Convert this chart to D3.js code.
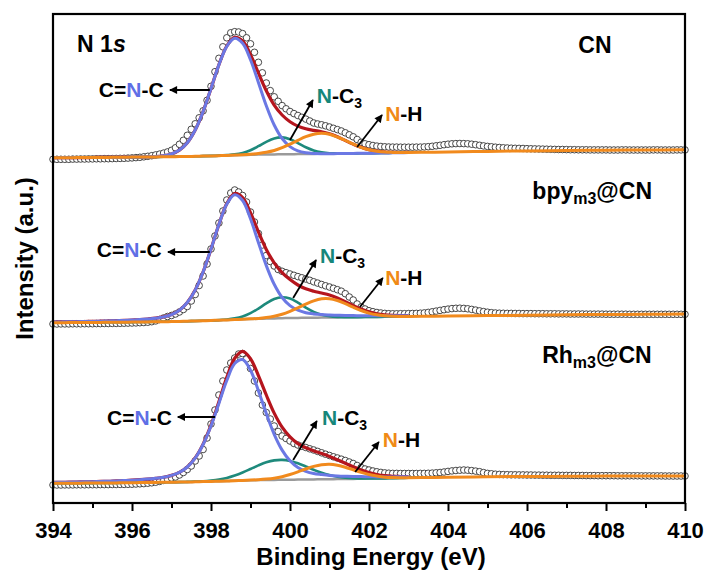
<!DOCTYPE html>
<html>
<head>
<meta charset="utf-8">
<script src="https://cdn.jsdelivr.net/npm/d3@7"></script>
<style>
  body { margin: 0; background: #fff; }
  svg { display: block; font-family: "Liberation Sans", Arial, sans-serif; font-weight: bold; }
</style>
</head>
<body>
<div class="svg-container"></div>
<script>
// energy grids (eV): measurement step 0.1, fit step 0.2
var energy = d3.range(161).map(function(i) { return +(394 + i * 0.1).toFixed(1); });
var fitE = d3.range(46).map(function(i) { return +(394 + i * 0.2).toFixed(1); });
var tailE = [403.5, 404, 405, 406, 407, 408, 409, 410];
var majorTicks = [394, 396, 398, 400, 402, 404, 406, 408, 410];
var minorTicks = [395, 397, 399, 401, 403, 405, 407, 409];

var sampleNames = ["CN", "bpy", "Rh"];
var sampleSubs = ["", "m3", "m3"];
var sampleEnds = ["", "@CN", "@CN"];

// CN
var cnData = [0, 0, 0, 0, 0, 0.2, 0.2, 0.3, 0.3, 0.4,
  0.4, 0.5, 0.5, 0.6, 0.6, 0.7, 0.8, 0.9, 1.0, 1.2,
  1.4, 1.7, 2.0, 2.5, 3.0, 3.6, 4.4, 5.2, 6.2, 7.4,
  9, 11.5, 15, 19, 24, 30, 35.5, 41.5, 48.5, 59,
  73, 87.6, 101, 112.5, 121.5, 126.5, 127.6, 127.3, 125.7, 121.5,
  115.5, 107, 97, 86.5, 76.3, 68.7, 62.5, 58, 53.7, 50.5,
  47.8, 45.7, 43.8, 42, 40.2, 38.3, 36.3, 35.3, 34.5, 33.5,
  32.3, 31, 29.7, 28.3, 26.5, 24.5, 22.5, 19.8, 17, 15.5,
  14.6, 13.8, 13.2, 12.8, 12.5, 12.3, 12.2, 12.2, 12.1, 12.1,
  12.1, 12.1, 12.2, 12.2, 12.4, 12.6, 13, 13.5, 14, 14.6,
  15.1, 15.5, 15.7, 15.8, 15.7, 15.5, 15.1, 14.6, 14, 13.4,
  12.9, 12.5, 12.1, 11.8, 11.5, 11.3, 11.1, 11, 10.9, 10.8,
  10.6, 10.5, 10.4, 10.3, 10.2, 10.1, 10.0, 9.9, 9.8, 9.8,
  9.7, 9.6, 9.6, 9.5, 9.5, 9.5, 9.4, 9.4, 9.4, 9.4,
  9.4, 9.3, 9.3, 9.3, 9.4, 9.4, 9.3, 9.3, 9.3, 9.3,
  9.3, 9.3, 9.4, 9.4, 9.3, 9.3, 9.3, 9.3, 9.4, 9.4,
  9.4];
var cnBg = [1.5, 1.6, 1.6, 1.7, 1.7, 1.8, 1.9, 1.9, 2.0, 2.1,
  2.2, 2.2, 2.3, 2.4, 2.5, 2.6, 2.7, 2.8, 3.0, 3.2,
  3.4, 3.6, 3.9, 4.1, 4.3, 4.5, 4.7, 4.8, 4.9, 5.0,
  5.1, 5.2, 5.3, 5.4, 5.5, 5.6, 5.7, 5.8, 5.9, 6.0,
  6.1, 6.2, 6.3, 6.5, 6.6, 6.8];
var cnCNC = [0, 0, 0, 0, 0, 0, 0, 0, 0, 0,
  0, 0, 0.1, 0.3, 1.0, 2.7, 6.5, 13.8, 26.3, 44.5,
  67.4, 90.8, 109.1, 116.9, 111.7, 95.1, 72.2, 48.8, 29.4, 15.8,
  7.6, 3.2, 1.2, 0.4, 0.1, 0, 0, 0, 0, 0,
  0, 0, 0, 0, 0, 0];
var cnNC3 = [0, 0, 0, 0, 0, 0, 0, 0, 0, 0,
  0, 0, 0, 0, 0, 0, 0, 0, 0, 0,
  0, 0.1, 0.3, 0.8, 2.1, 4.6, 8.4, 12.7, 16.0, 16.9,
  14.9, 11.0, 6.7, 3.4, 1.5, 0.5, 0.2, 0, 0, 0,
  0, 0, 0, 0, 0, 0];
var cnNH = [0, 0, 0, 0, 0, 0, 0, 0, 0, 0,
  0, 0, 0, 0, 0, 0, 0, 0, 0, 0,
  0, 0, 0, 0.1, 0.2, 0.5, 1.1, 2.2, 3.9, 6.6,
  10.0, 13.8, 17.3, 19.7, 20.5, 19.4, 16.6, 13.0, 9.3, 6.0,
  3.5, 1.9, 0.9, 0.4, 0.2, 0.1];
var cnTail = [7.0, 7.3, 7.9, 8.4, 8.8, 9.1, 9.3, 9.5];

// bpy_m3@CN
var bpyData = [0.0, 0.0, 0.1, 0.1, 0.1, 0.2, 0.2, 0.2, 0.3, 0.3,
  0.3, 0.4, 0.4, 0.5, 0.5, 0.6, 0.6, 0.7, 0.8, 0.9,
  1.0, 1.1, 1.3, 1.5, 1.8, 2.3, 3.1, 4.5, 6.0, 7.5,
  8.5, 10, 12, 14.5, 17.5, 23, 29.5, 38.5, 48, 60,
  75, 88, 101, 113, 124, 131, 134, 132, 128.5, 122,
  112, 102, 90.5, 79, 68.5, 62.5, 58, 54.5, 52.7, 51.3,
  50, 48.7, 47.4, 46.2, 45, 43.7, 42.2, 40.9, 39.5, 38.2,
  37, 35.7, 34.3, 32.8, 30.3, 27, 24, 20, 17, 15,
  13.3, 12.3, 11.5, 11.0, 10.6, 10.3, 10.2, 10.2, 10.3, 10.3,
  10.4, 10.5, 10.6, 10.8, 11.1, 11.6, 12.2, 12.9, 13.6, 14.3,
  14.9, 15.4, 15.7, 15.8, 15.6, 15.2, 14.6, 13.9, 13.1, 12.4,
  11.8, 11.3, 11.0, 10.8, 10.7, 10.6, 10.6, 10.5, 10.5, 10.4,
  10.4, 10.4, 10.3, 10.3, 10.3, 10.2, 10.2, 10.2, 10.1, 10.1,
  10.1, 10.0, 10.0, 10.0, 10.0, 9.9, 9.9, 9.9, 9.9, 9.9,
  9.8, 9.8, 9.8, 9.8, 9.8, 9.8, 9.7, 9.7, 9.7, 9.7,
  9.7, 9.7, 9.7, 9.7, 9.7, 9.7, 9.7, 9.7, 9.7, 9.7,
  9.7];
var bpyBg = [1.3, 1.3, 1.4, 1.4, 1.5, 1.5, 1.6, 1.7, 1.7, 1.8,
  1.9, 2.0, 2.1, 2.2, 2.3, 2.4, 2.6, 2.8, 3.0, 3.2,
  3.5, 3.8, 4.1, 4.4, 4.7, 5.0, 5.2, 5.4, 5.6, 5.8,
  6.0, 6.1, 6.2, 6.3, 6.4, 6.5, 6.6, 6.7, 6.8, 6.9,
  7.0, 7.1, 7.2, 7.3, 7.4, 7.5];
var bpyCNC = [0.7, 0.8, 0.8, 0.9, 1.0, 1.1, 1.2, 1.4, 1.6, 1.8,
  2.1, 2.4, 2.9, 3.6, 4.8, 7.0, 11.2, 18.7, 30.9, 48.8,
  71.4, 95.6, 115.9, 124.9, 118.8, 100.3, 76.3, 53.0, 34.1, 20.7,
  12.4, 7.7, 5.1, 3.8, 3.0, 2.5, 2.1, 1.8, 1.6, 1.4,
  1.3, 1.1, 1.0, 0.9, 0.8, 0.8];
var bpyNC3 = [0, 0, 0, 0, 0, 0, 0, 0, 0, 0,
  0, 0, 0, 0, 0, 0, 0, 0, 0, 0,
  0, 0.1, 0.4, 1.2, 2.8, 5.8, 10.2, 15.2, 19.4, 21.0,
  19.4, 15.2, 10.2, 5.8, 2.8, 1.2, 0.4, 0.1, 0, 0,
  0, 0, 0, 0, 0, 0];
var bpyNH = [0, 0, 0, 0, 0, 0, 0, 0, 0, 0,
  0, 0, 0, 0, 0, 0, 0, 0, 0, 0,
  0, 0, 0, 0, 0.1, 0.2, 0.4, 1.0, 2.1, 3.9,
  6.6, 10.0, 13.7, 16.9, 18.8, 18.8, 16.9, 13.7, 10.0, 6.6,
  3.9, 2.1, 1.0, 0.4, 0.2, 0.1];
var bpyTail = [7.7, 7.9, 8.4, 8.8, 9.2, 9.5, 9.7, 10.0];

// Rh_m3@CN
var rhData = [0, 0, 0, 0.1, 0.1, 0.1, 0.2, 0.2, 0.2, 0.3,
  0.3, 0.3, 0.4, 0.4, 0.4, 0.5, 0.5, 0.6, 0.6, 0.7,
  0.8, 1.0, 1.2, 1.4, 1.8, 2.2, 2.8, 3.6, 4.6, 5.8,
  7.0, 8.0, 10, 12.5, 15.5, 19, 24, 29, 35.5, 47,
  61, 75, 90, 104, 115, 122, 127, 131, 131.5, 126,
  116.5, 104, 92, 80, 72.5, 66, 59, 53.5, 49, 46.5,
  44, 41.5, 40, 38.7, 37.5, 36.2, 35, 33.6, 32.2, 30.8,
  29.5, 28.2, 27, 25.8, 24.5, 23, 21.5, 19.5, 17.5, 16,
  15, 14, 13.2, 12.6, 12.1, 11.8, 11.6, 11.6, 11.5, 11.5,
  11.5, 11.5, 11.5, 11.6, 11.6, 11.7, 11.9, 12.2, 12.5, 13.0,
  13.6, 14.1, 14.5, 14.8, 15.0, 14.8, 14.4, 13.9, 13.3, 12.4,
  11.6, 11.2, 10.8, 10.6, 10.4, 10.3, 10.2, 10.2, 10.1, 10.1,
  10.0, 10.0, 9.9, 9.9, 9.8, 9.8, 9.7, 9.7, 9.7, 9.6,
  9.6, 9.6, 9.5, 9.5, 9.5, 9.4, 9.4, 9.4, 9.3, 9.3,
  9.3, 9.3, 9.3, 9.2, 9.2, 9.2, 9.2, 9.2, 9.2, 9.1,
  9.1, 9.1, 9.1, 9.1, 9.1, 9.0, 9.0, 9.0, 9.0, 9.0,
  9.0];
var rhBg = [1.7, 1.7, 1.8, 1.8, 1.9, 1.9, 2.0, 2.0, 2.1, 2.2,
  2.3, 2.4, 2.5, 2.6, 2.7, 2.8, 2.9, 3.0, 3.2, 3.4,
  3.6, 3.8, 4.0, 4.3, 4.5, 4.7, 4.9, 5.0, 5.1, 5.2,
  5.3, 5.4, 5.5, 5.6, 5.7, 5.8, 5.9, 6.0, 6.1, 6.3,
  6.4, 6.5, 6.6, 6.8, 7.0, 7.2];
var rhCNC = [0.9, 1.0, 1.0, 1.2, 1.3, 1.4, 1.6, 1.7, 2.0, 2.2,
  2.5, 2.9, 3.4, 4.1, 5.1, 6.8, 9.7, 15.0, 23.7, 37.1,
  55.4, 77.8, 100.5, 117.2, 121.0, 110.1, 89.4, 66.4, 45.6, 29.7,
  18.9, 12.0, 8.2, 5.9, 4.7, 3.7, 3.1, 2.7, 2.4, 2.1,
  1.8, 1.6, 1.5, 1.3, 1.2, 1.1];
var rhNC3 = [0, 0, 0, 0, 0, 0, 0, 0, 0, 0,
  0, 0, 0, 0, 0, 0, 0, 0.1, 0.2, 0.4,
  0.9, 1.7, 3.1, 5.2, 8.0, 11.3, 14.7, 17.7, 19.5, 19.9,
  18.8, 16.3, 13.0, 9.6, 6.5, 4.1, 2.3, 1.2, 0.6, 0.3,
  0.1, 0, 0, 0, 0, 0];
var rhNH = [0, 0, 0, 0, 0, 0, 0, 0, 0, 0,
  0, 0, 0, 0, 0, 0, 0, 0, 0, 0,
  0, 0, 0, 0, 0.1, 0.2, 0.4, 0.9, 1.7, 3.1,
  5.2, 7.7, 10.5, 13.0, 14.6, 15.0, 13.9, 11.8, 9.1, 6.4,
  4.1, 2.4, 1.2, 0.6, 0.3, 0.1];
var rhTail = [7.5, 7.8, 8.2, 8.5, 8.7, 8.9, 9.0, 9.1];

var spectra = [
  { data: cnData, bg: cnBg, cnc: cnCNC, nc3: cnNC3, nh: cnNH, tail: cnTail },
  { data: bpyData, bg: bpyBg, cnc: bpyCNC, nc3: bpyNC3, nh: bpyNH, tail: bpyTail },
  { data: rhData, bg: rhBg, cnc: rhCNC, nc3: rhNC3, nh: rhNH, tail: rhTail }
];

// layout: vertical stacking offsets and label anchors [eV, intensity above the panel baseline]
var offsets = [325.7, 161, 0];
var notes = [
  { tag: [407.72, 106], cncText: [395.16, 62.3], cncArrow: [[397.97, 69.3], [396.96, 69.3]],
    nc3Text: [400.68, 56.3], nc3Arrow: [[400.0, 19.3], [400.58, 59.3]],
    nhText: [402.41, 38.3], nhArrow: [[401.70, 12.3], [402.33, 44.3]] },
  { tag: [407.65, 125], cncText: [395.11, 67], cncArrow: [[397.97, 72], [396.91, 72]],
    nc3Text: [400.76, 61], nc3Arrow: [[400.08, 26], [400.66, 64]],
    nhText: [402.41, 39], nhArrow: [[401.77, 17], [402.35, 46]] },
  { tag: [407.77, 122], cncText: [395.37, 60], cncArrow: [[398.10, 68], [397.16, 68]],
    nc3Text: [400.81, 60], nc3Arrow: [[400.08, 25], [400.68, 64]],
    nhText: [402.35, 38], nhArrow: [[401.65, 13], [402.25, 43]] }
];

var colors = { data: "#333", env: "#b5151d", bg: "#9a9a9a", cnc: "#6b78e4", nc3: "#1e8a7c", nh: "#f18a1d" };
var labelColors = { cnc: "#5f6fe6", nc3: "#16877a", nh: "#f08a16" };

var width = 708, height = 572;
var plotLeft = 53, plotRight = 685, plotTop = 14, plotBottom = 503;

var svg = d3.select(".svg-container").append("svg")
  .attr("width", width)
  .attr("height", height);

svg.append("rect").attr("width", width).attr("height", height).attr("fill", "#fff");

svg.append("defs").append("marker")
  .attr("id", "head")
  .attr("viewBox", "0 0 10 10")
  .attr("refX", 9).attr("refY", 5)
  .attr("markerWidth", 10).attr("markerHeight", 8)
  .attr("markerUnits", "userSpaceOnUse")
  .attr("orient", "auto")
  .append("path").attr("d", "M0,0L10,5L0,10z").attr("fill", "#000");

var x = d3.scaleLinear().domain([394, 410]).range([plotLeft, plotRight]);
var y = d3.scaleLinear().domain([-18, 471]).range([plotBottom, plotTop]);

var line = d3.line()
  .x(function(d) { return x(d[0]); })
  .y(function(d) { return y(d[1]); })
  .curve(d3.curveCatmullRom);

spectra.forEach(function(s, k) {
  var off = offsets[k];
  var g = svg.append("g");

  // measured points
  g.selectAll("circle")
    .data(energy.map(function(e, i) { return [e, s.data[i] + off]; }))
    .enter().append("circle")
    .attr("cx", function(d) { return x(d[0]); })
    .attr("cy", function(d) { return y(d[1]); })
    .attr("r", 3.3)
    .attr("fill", "#fff")
    .attr("stroke", colors.data)
    .attr("stroke-width", 0.9);

  function withBg(arr) {
    return fitE.map(function(e, i) { return [e, s.bg[i] + arr[i] + off]; });
  }
  var bgPts = fitE.map(function(e, i) { return [e, s.bg[i] + off]; });
  var envPts = fitE.map(function(e, i) { return [e, s.bg[i] + s.cnc[i] + s.nc3[i] + s.nh[i] + off]; });
  var nhPts = withBg(s.nh).concat(tailE.map(function(e, i) { return [e, s.tail[i] + off]; }));

  var curves = [
    [envPts, colors.env, 3.2],
    [bgPts, colors.bg, 2.5],
    [withBg(s.nc3), colors.nc3, 2.6],
    [withBg(s.cnc), colors.cnc, 3],
    [nhPts, colors.nh, 3]
  ];
  curves.forEach(function(c) {
    g.append("path")
      .datum(c[0])
      .attr("d", line)
      .attr("fill", "none")
      .attr("stroke", c[1])
      .attr("stroke-width", c[2])
      .attr("stroke-linejoin", "round");
  });

  // annotations
  var n = notes[k];
  function arrow(a) {
    g.append("line")
      .attr("x1", x(a[0][0])).attr("y1", y(a[0][1] + off))
      .attr("x2", x(a[1][0])).attr("y2", y(a[1][1] + off))
      .attr("stroke", "#000").attr("stroke-width", 1.8)
      .attr("marker-end", "url(#head)");
  }
  arrow(n.cncArrow);
  arrow(n.nc3Arrow);
  arrow(n.nhArrow);

  var t1 = g.append("text").attr("x", x(n.cncText[0])).attr("y", y(n.cncText[1] + off)).attr("font-size", 21);
  t1.append("tspan").text("C=");
  t1.append("tspan").attr("fill", labelColors.cnc).text("N");
  t1.append("tspan").text("-C");

  var t2 = g.append("text").attr("x", x(n.nc3Text[0])).attr("y", y(n.nc3Text[1] + off)).attr("font-size", 21);
  t2.append("tspan").attr("fill", labelColors.nc3).text("N");
  t2.append("tspan").text("-C");
  t2.append("tspan").attr("font-size", 14).attr("dy", 5).text("3");

  var t3 = g.append("text").attr("x", x(n.nhText[0])).attr("y", y(n.nhText[1] + off)).attr("font-size", 21);
  t3.append("tspan").attr("fill", labelColors.nh).text("N");
  t3.append("tspan").text("-H");

  var tg = g.append("text").attr("x", x(n.tag[0])).attr("y", y(n.tag[1] + off))
    .attr("font-size", 23).attr("text-anchor", "middle");
  tg.append("tspan").text(sampleNames[k]);
  if (sampleSubs[k]) {
    tg.append("tspan").attr("font-size", 16).attr("dy", 5).text(sampleSubs[k]);
    tg.append("tspan").attr("dy", -5).text(sampleEnds[k]);
  }
});

// core level label
var core = svg.append("text").attr("x", x(394.61)).attr("y", y(offsets[0] + 107.6)).attr("font-size", 23);
core.append("tspan").text("N 1");
core.append("tspan").attr("font-style", "italic").text("s");

// x axis
var axisMajor = svg.append("g").attr("transform", "translate(0," + plotBottom + ")")
  .call(d3.axisBottom(x).tickValues(majorTicks).tickSize(8).tickPadding(11).tickFormat(d3.format("d")));
var axisMinor = svg.append("g").attr("transform", "translate(0," + plotBottom + ")")
  .call(d3.axisBottom(x).tickValues(minorTicks).tickSize(5).tickFormat(""));
[axisMajor, axisMinor].forEach(function(a) {
  a.select(".domain").remove();
  a.selectAll("line").attr("stroke", "#000").attr("stroke-width", 2);
  a.attr("font-family", "'Liberation Sans', Arial, sans-serif").attr("font-size", 22).attr("font-weight", "bold");
  a.selectAll("text").attr("fill", "#000");
});

// frame
svg.append("rect")
  .attr("x", plotLeft).attr("y", plotTop)
  .attr("width", plotRight - plotLeft).attr("height", plotBottom - plotTop)
  .attr("fill", "none").attr("stroke", "#000").attr("stroke-width", 2.2);

// axis titles
svg.append("text")
  .attr("x", (plotLeft + plotRight) / 2 + 2)
  .attr("y", 565)
  .attr("text-anchor", "middle")
  .attr("font-size", 24)
  .text("Binding Energy (eV)");

svg.append("text")
  .attr("transform", "translate(33," + (plotTop + plotBottom) / 2 + ") rotate(-90)")
  .attr("text-anchor", "middle")
  .attr("font-size", 24)
  .text("Intensity (a.u.)");
</script>
</body>
</html>
